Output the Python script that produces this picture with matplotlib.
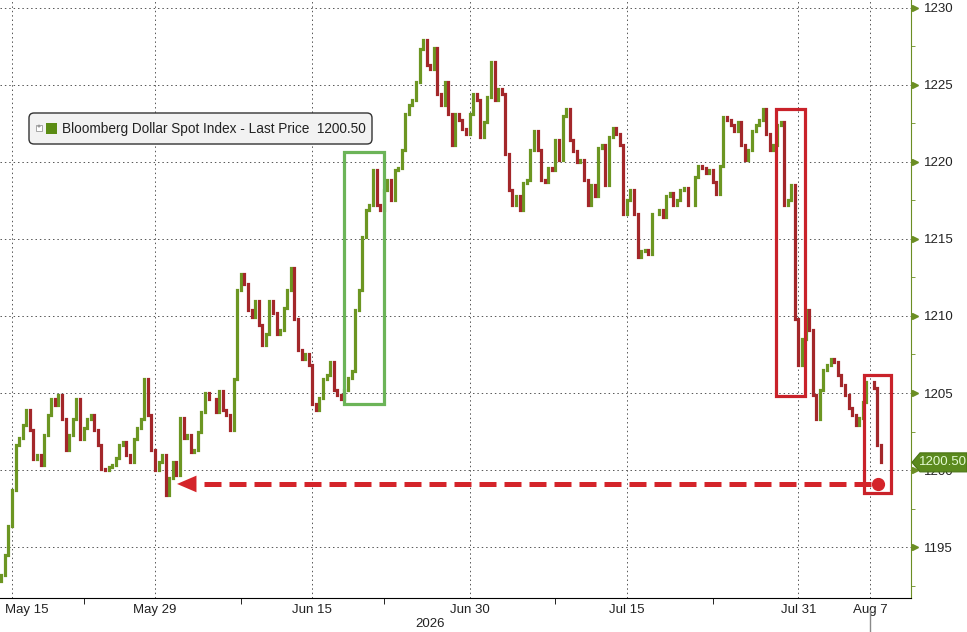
import numpy as np
import pandas as pd
import matplotlib
matplotlib.use("Agg")
import matplotlib.pyplot as plt
import matplotlib.transforms as mtransforms
from matplotlib.patches import Rectangle, FancyBboxPatch, Polygon
from matplotlib.lines import Line2D

plt.rcParams['font.family'] = ['Liberation Sans', 'DejaVu Sans']

# trading sessions, 4 bars per session (first session only has the last 3)
sessions = pd.bdate_range('2026-05-14', '2026-08-07')
bars_per_day = 4
first_open = 1192.8
last_price = 1200.50

closes = [
    1193.2, 1194.5, 1196.4,           # May 14
    1198.7, 1201.6, 1202.1, 1202.9,   # May 15
    1203.9, 1202.6, 1200.7, 1201.0,   # May 18
    1200.3, 1202.3, 1203.6, 1204.6,   # May 19
    1204.2, 1204.9, 1203.3, 1201.3,   # May 20
    1202.3, 1203.3, 1204.6, 1202.0,   # May 21
    1202.7, 1203.3, 1203.6, 1202.6,   # May 22
    1201.6, 1200.1, 1200.0, 1200.2,   # May 25
    1200.3, 1200.8, 1201.6, 1201.8,   # May 26
    1201.0, 1200.5, 1202.0, 1202.7,   # May 27
    1203.3, 1205.9, 1203.6, 1201.3,   # May 28
    1200.0, 1200.5, 1201.0, 1198.4,   # May 29
    1199.5, 1200.5, 1199.7, 1203.4,   # Jun 1
    1202.1, 1202.3, 1201.2, 1201.3,   # Jun 2
    1202.5, 1203.8, 1205.0, 1204.6,   # Jun 3
    1204.6, 1203.8, 1205.1, 1203.9,   # Jun 4
    1203.6, 1202.6, 1205.9, 1211.7,   # Jun 5
    1212.7, 1212.1, 1210.4, 1209.9,   # Jun 8
    1211.0, 1209.4, 1208.1, 1208.8,   # Jun 9
    1211.0, 1210.2, 1208.8, 1209.1,   # Jun 10
    1210.5, 1211.7, 1213.1, 1209.8,   # Jun 11
    1207.8, 1207.2, 1207.5, 1206.8,   # Jun 12
    1204.3, 1203.9, 1204.7, 1205.9,   # Jun 15
    1206.2, 1207.0, 1205.2, 1204.9,   # Jun 16
    1204.6, 1205.2, 1206.0, 1206.4,   # Jun 17
    1210.4, 1211.7, 1215.1, 1216.9,   # Jun 18
    1217.2, 1219.5, 1217.2, 1216.9,   # Jun 19
    1218.2, 1218.8, 1217.5, 1219.5,   # Jun 22
    1219.6, 1220.8, 1223.1, 1223.7,   # Jun 23
    1224.0, 1225.2, 1227.3, 1227.9,   # Jun 24
    1226.3, 1226.0, 1227.4, 1224.4,   # Jun 25
    1223.7, 1225.2, 1223.1, 1221.1,   # Jun 26
    1223.1, 1222.7, 1222.1, 1221.8,   # Jun 29
    1223.1, 1224.4, 1224.0, 1221.6,   # Jun 30
    1222.6, 1224.2, 1226.5, 1224.0,   # Jul 1
    1224.7, 1224.4, 1220.5, 1218.2,   # Jul 2
    1217.2, 1217.8, 1216.9, 1218.6,   # Jul 3
    1218.8, 1220.8, 1222.0, 1220.8,   # Jul 6
    1218.8, 1218.7, 1219.6, 1219.5,   # Jul 7
    1221.4, 1220.1, 1223.0, 1223.4,   # Jul 8
    1221.4, 1220.7, 1220.0, 1220.1,   # Jul 9
    1218.8, 1217.2, 1218.5, 1217.8,   # Jul 10
    1220.9, 1221.1, 1218.5, 1221.6,   # Jul 13
    1222.2, 1221.8, 1221.1, 1216.6,   # Jul 14
    1217.5, 1218.2, 1216.6, 1213.8,   # Jul 15
    1214.2, 1214.3, 1214.0, 1216.6,   # Jul 16
    1216.6, 1216.9, 1216.4, 1217.8,   # Jul 17
    1218.0, 1217.2, 1217.5, 1218.2,   # Jul 20
    1218.3, 1217.2, 1217.2, 1219.0,   # Jul 21
    1219.7, 1219.6, 1219.3, 1219.5,   # Jul 22
    1218.7, 1217.9, 1219.7, 1222.9,   # Jul 23
    1222.7, 1222.4, 1222.0, 1222.6,   # Jul 24
    1221.1, 1220.1, 1220.8, 1222.0,   # Jul 27
    1222.4, 1222.7, 1223.4, 1221.8,   # Jul 28
    1220.8, 1221.1, 1222.4, 1222.6,   # Jul 29
    1217.2, 1217.5, 1218.5, 1209.8,   # Jul 30
    1206.8, 1208.5, 1210.4, 1209.1,   # Jul 31
    1204.9, 1203.3, 1205.2, 1206.5,   # Aug 3
    1206.8, 1207.2, 1207.0, 1206.2,   # Aug 4
    1205.5, 1204.9, 1204.0, 1203.6,   # Aug 5
    1202.9, 1203.4, 1204.4, 1205.7,   # Aug 6
    1205.7, 1205.3, 1201.6, 1200.5,   # Aug 7
]

tick_dates = ['2026-05-15', '2026-05-29', '2026-06-15', '2026-06-30',
              '2026-07-15', '2026-07-31', '2026-08-07']
tick_labels = ['May 15', 'May 29', 'Jun 15', 'Jun 30', 'Jul 15', 'Jul 31', 'Aug 7']
minor_dates = ['2026-05-22', '2026-06-08', '2026-06-22', '2026-07-08', '2026-07-23']

up_col = '#6c9622'
down_col = '#a3272a'
olive = '#6b8e23'
red = '#d4242a'

day_index = {d: i for i, d in enumerate(sessions)}
def dpos(s):
    return day_index[pd.Timestamp(s)]

c = np.array(closes)
o = np.concatenate([[first_open], c[:-1]])
x = (np.arange(len(c)) + 1) / bars_per_day

fig = plt.figure(figsize=(9.67, 6.32), dpi=100)
ax = fig.add_axes([0, 34 / 632, 911 / 967, 598 / 632])

up = c >= o
lc1 = ax.vlines(x[up], o[up], c[up], color=up_col, lw=2.3, zorder=3)
lc2 = ax.vlines(x[~up], o[~up], c[~up], color=down_col, lw=2.3, zorder=3)
for lc in (lc1, lc2):
    lc.set_capstyle('projecting')

ax.set_xlim(0.16, 63.87)
ax.set_ylim(1191.7, 1230.5)

# axes styling
for s in ('left', 'top'):
    ax.spines[s].set_visible(False)
ax.spines['right'].set_color(olive)
ax.spines['bottom'].set_color('black')

ax.yaxis.tick_right()
yt = np.arange(1195, 1231, 5)
ax.set_yticks(yt)
ax.set_yticks(np.arange(1192.5, 1230, 5), minor=True)
ax.tick_params(axis='y', which='major', length=0, pad=9, labelsize=9.5, labelcolor='#222')
ax.tick_params(axis='y', which='minor', length=3, color=olive)

ax.set_xticks([dpos(d) for d in tick_dates])
ax.set_xticklabels(tick_labels)
ax.set_xticks([dpos(d) for d in minor_dates], minor=True)
ax.tick_params(axis='x', which='major', length=0, pad=4, labelsize=9.5, labelcolor='#222')
ax.tick_params(axis='x', which='minor', length=4, color='black')
first = ax.get_xticklabels()[0]
first.set_ha('left')
first.set_transform(first.get_transform() +
                    mtransforms.ScaledTranslation(-7 / 100, 0, fig.dpi_scale_trans))

ax.grid(True, which='major', color='#555555', linestyle=(0, (1.5, 3)), linewidth=0.7)

ax.plot([1.004] * len(yt), yt, marker='>', ms=5, color=olive, ls='none',
        transform=ax.get_yaxis_transform(), clip_on=False, zorder=5)

fig.text(430 / 967, 1 - 624 / 632, '2026', ha='center', va='center',
         fontsize=9.5, color='#222')

# annotations
ax.add_patch(Rectangle((24.2, 1204.3), 2.8, 16.35, fill=False, ec='#6cb458', lw=2.3, zorder=4))
ax.add_patch(Rectangle((54.4, 1204.8), 2.05, 18.6, fill=False, ec='#c9222a', lw=2.3, zorder=4))
ax.add_patch(Rectangle((60.6, 1198.5), 1.9, 7.7, fill=False, ec='#c9222a', lw=2.3, zorder=4))

tip_x, dot_x, lvl = 12.54, 61.55, 1199.1
ax.plot([tip_x + 1.9, dot_x], [lvl, lvl], color=red, lw=3.6, dashes=(3.4, 1.6), zorder=5)
ax.annotate('', xy=(tip_x, lvl), xytext=(tip_x + 1.5, lvl),
            arrowprops=dict(arrowstyle='-|>,head_length=1.4,head_width=0.6',
                            mutation_scale=10, color=red, lw=0, shrinkA=0, shrinkB=0),
            zorder=5)
ax.plot(dot_x, lvl, 'o', ms=8.5, color=red, zorder=6)

# legend box (pixel coordinates)
ident = mtransforms.IdentityTransform()
H = 632
fig.add_artist(FancyBboxPatch((29, H - 144), 343, 31, boxstyle='round,pad=0,rounding_size=5',
                              fc='#f2f2f2', ec='#333333', lw=1, transform=ident))
fig.add_artist(Rectangle((36, H - 131), 6, 6, fc='white', ec='#999999', lw=0.6, transform=ident))
fig.text(39, H - 128, '+', transform=ident, ha='center', va='center', fontsize=5, color='#666')
fig.add_artist(Rectangle((46, H - 134), 11, 11, fc='#5b8c14', ec='none', transform=ident))
fig.text(62, H - 128.5, f'Bloomberg Dollar Spot Index - Last Price  {last_price:.2f}',
         transform=ident, va='center', ha='left', fontsize=9.8, color='#222')

# last price tag
fig.canvas.draw()
ty = ax.transData.transform((0, last_price))[1]
fig.add_artist(Polygon([(912, ty), (920, ty + 9.5), (967, ty + 9.5), (967, ty - 9.5), (920, ty - 9.5)],
                       closed=True, fc='#5b8a1e', ec='#4a7414', lw=0.8, transform=ident, zorder=10))
fig.text(943, ty, f'{last_price:.2f}', transform=ident, ha='center', va='center',
         fontsize=9.5, color='#e4fbd2', zorder=11)

# cursor line under the date axis
blend = mtransforms.blended_transform_factory(ax.transData, fig.transFigure)
fig.add_artist(Line2D([dpos('2026-08-07')] * 2, [0, 22 / 632], color='#8a8a8a', lw=1, transform=blend))

fig.savefig('out.png', dpi=100)
